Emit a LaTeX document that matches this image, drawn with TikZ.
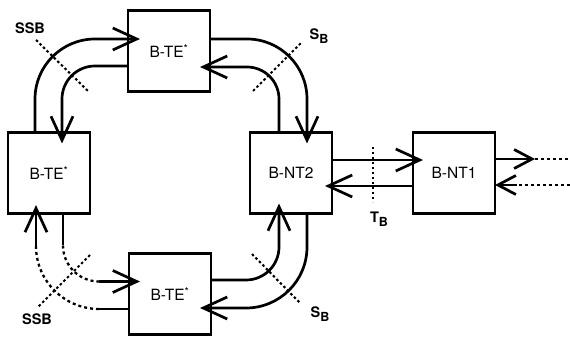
\documentclass[tikz,border=0pt]{standalone}
\usepackage{fontspec}
\setmainfont{TeX Gyre Heros}
\usepackage{tikz}
\usetikzlibrary{arrows.meta,calc}

\newcommand{\sub}[2]{#1\raisebox{-0.45ex}{\fontsize{12.5}{13}\selectfont #2}}

\begin{document}
\begin{tikzpicture}[x=1pt,y=1pt,
  every node/.style={font=\fontsize{15.5}{17}\selectfont},
  box/.style={draw,line width=2.9pt,minimum width=82pt,minimum height=81pt,inner sep=0pt,outer sep=0pt},
  wire/.style={line width=2.7pt},
  arr/.style={wire,-{Straight Barb[length=24pt,width=22pt]}},
  sarr/.style={wire,-{Straight Barb[length=18pt,width=19pt]}},
  dotline/.style={line width=2.3pt,dash pattern=on 3pt off 3pt},
  cut/.style={line width=2.1pt,dash pattern=on 2.5pt off 2.5pt},
  lbl/.style={font=\fontsize{14.5}{16}\selectfont\bfseries}]
 \useasboundingbox (0,0) rectangle (570,337);
 % stations and terminations
 \node[box] (teT) at (169,286) {B-TE\textsuperscript{*}};
 \node[box] (teL) at (49,164)  {B-TE\textsuperscript{*}};
 \node[box] (teB) at (170,43)  {B-TE\textsuperscript{*}};
 \node[box] (nt2) at (291,164) {B-NT2};
 \node[box] (nt1) at (454,164) {B-NT1};
 % ring, top half
 \draw[arr,rounded corners=60pt] ([xshift=-14pt]teL.north) |- ([xshift=12pt,yshift=12pt]teT.west);
 \draw[arr,rounded corners=33pt] ([yshift=-15pt]teT.west) -| ([xshift=13pt,yshift=-11pt]teL.north);
 \draw[arr,rounded corners=60pt] ([yshift=12pt]teT.east) -| ([xshift=16pt,yshift=-11pt]nt2.north);
 \draw[arr,rounded corners=32pt] ([xshift=-12pt]nt2.north) |- ([xshift=-10pt,yshift=-16pt]teT.east);
 % ring, bottom half
 \draw[arr,rounded corners=33pt] ([yshift=14pt]teB.east) -| ([xshift=-12pt,yshift=10pt]nt2.south);
 \draw[arr,rounded corners=61pt] ([xshift=16pt]nt2.south) |- ([xshift=-11pt,yshift=-14pt]teB.east);
 \draw[wire] ([xshift=14pt]teL.south) -- ++(0,-32) coordinate (la);
 \draw[dotline] (la) arc[start angle=180,end angle=270,radius=36] coordinate (lb);
 \draw[arr] (lb) -- ([xshift=11pt,yshift=12.5pt]teB.west);
 \draw[wire] ([yshift=-15pt]teB.west) -- ++(-30,0) coordinate (lc);
 \draw[dotline] (lc) arc[start angle=270,end angle=180,radius=63] coordinate (ld);
 \draw[arr] (ld) -- ([xshift=-13pt,yshift=8.5pt]teL.south);
 % NT2 <-> NT1 and beyond
 \draw[arr] ([yshift=13pt]nt2.east) -- ([xshift=10pt,yshift=13pt]nt1.west);
 \draw[arr] ([yshift=-13pt]nt1.west) -- ([xshift=-7pt,yshift=-13pt]nt2.east);
 \coordinate (eu) at (570,178);
 \coordinate (el) at (570,152);
 \draw[sarr] ([yshift=14pt]nt1.east) -- ++(40,0) coordinate (ra);
 \draw[dotline] (ra) -- (eu);
 \draw[dotline] (el) -- ++(-53,0) coordinate (rb);
 \draw[sarr] (rb) -- ([yshift=-12pt]nt1.east);
 % reference points
 \draw[cut] (36,297) -- (88,246);
 \draw[cut] (253,246) -- (302,295);
 \draw[cut] (90,82) -- (37,29);
 \draw[cut] (252,83) -- (300,34);
 \draw[cut] (373,190) -- (373,135);
 \node[lbl] (ssbT) at (30,309) {SSB};
 \node[lbl] (ssbB) at (37,18) {SSB};
 \node[lbl] (sbT) at (319,301) {\sub{S}{B}};
 \node[lbl] (sbB) at (320,23) {\sub{S}{B}};
 \node[lbl] (tb) at (379,118) {\sub{T}{B}};
\end{tikzpicture}
\end{document}
